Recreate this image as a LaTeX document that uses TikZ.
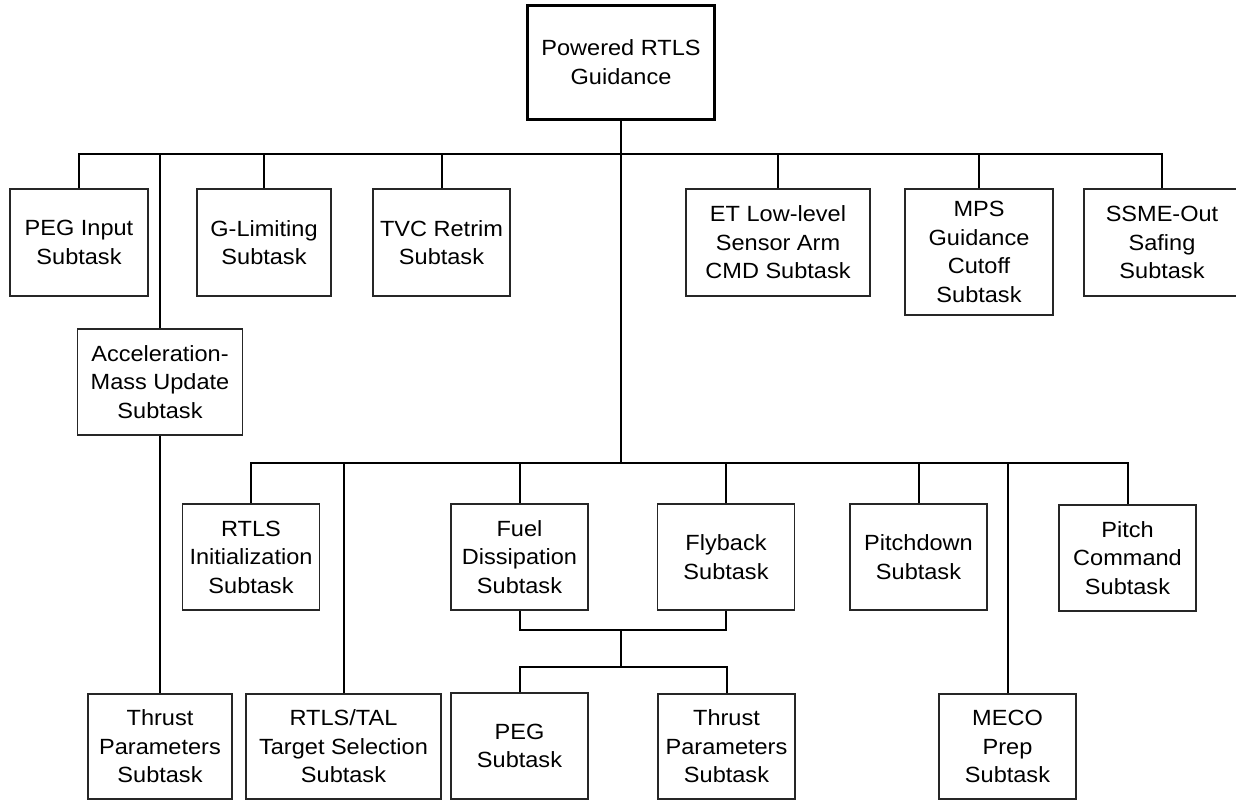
\documentclass[tikz,border=0pt]{standalone}
\usepackage{fontspec}
\setmainfont{Liberation Sans}[FakeStretch=1.07]
\begin{document}
\begin{tikzpicture}[x=1pt,y=-1pt,
  box/.style={draw=black!85, line width=1.2pt, fill=white, inner sep=0pt, align=center,
    font=\fontsize{22}{28.5}\selectfont},
  rootbox/.style={box, draw=black, line width=3pt},
  conn/.style={draw=black, line width=2pt}]
\useasboundingbox (0,0) rectangle (1236,801);
% root
\node[rootbox, minimum width=187pt, minimum height=114pt] (root) at (621,62) {Powered RTLS\\Guidance};
% row 1
\node[box, minimum width=138pt, minimum height=107pt] (pegin) at (79,242.5) {PEG Input\\Subtask};
\node[box, minimum width=134pt, minimum height=107pt] (glim) at (264,242.5) {G-Limiting\\Subtask};
\node[box, minimum width=137pt, minimum height=107pt] (tvc) at (441.5,242.5) {TVC Retrim\\Subtask};
\node[box, minimum width=184pt, minimum height=107pt] (et) at (778,242.5) {ET Low-level\\Sensor Arm\\CMD Subtask};
\node[box, minimum width=148pt, minimum height=126pt] (mps) at (979,252) {MPS\\Guidance\\Cutoff\\Subtask};
\node[box, minimum width=156pt, minimum height=107pt] (ssme) at (1162,242.5) {SSME-Out\\Safing\\Subtask};
% acceleration
\node[box, minimum width=165pt, minimum height=106pt] (acc) at (160,382) {Acceleration-\\Mass Update\\Subtask};
% row 2
\node[box, minimum width=137pt, minimum height=106pt] (init) at (251,557) {RTLS\\Initialization\\Subtask};
\node[box, minimum width=137pt, minimum height=106pt] (fuel) at (519.5,557) {Fuel\\Dissipation\\Subtask};
\node[box, minimum width=137pt, minimum height=106pt] (fly) at (726,557) {Flyback\\Subtask};
\node[box, minimum width=137pt, minimum height=106pt] (pdown) at (918.5,557) {Pitchdown\\Subtask};
\node[box, minimum width=137pt, minimum height=106pt] (pcmd) at (1127.5,558) {Pitch\\Command\\Subtask};
% row 3
\node[box, minimum width=144pt, minimum height=105pt] (thrl) at (160,746.5) {Thrust\\Parameters\\Subtask};
\node[box, minimum width=195pt, minimum height=105pt] (tal) at (343.5,746.5) {RTLS/TAL\\Target Selection\\Subtask};
\node[box, minimum width=137pt, minimum height=106pt] (peg) at (519.5,746) {PEG\\Subtask};
\node[box, minimum width=137pt, minimum height=105pt] (thrr) at (726.5,746.5) {Thrust\\Parameters\\Subtask};
\node[box, minimum width=137pt, minimum height=105pt] (meco) at (1007.5,746.5) {MECO\\Prep\\Subtask};
% bus coordinates
\coordinate (b1) at (621,154);
\coordinate (b2) at (621,463);
\coordinate (j1) at (621,630);
\coordinate (j2) at (621,667);
% connectors
\draw[conn] (root.south) -- (b2);
\draw[conn] (pegin.north) |- (b1) -| (ssme.north);
\draw[conn] (glim.north) -- (glim.north |- b1);
\draw[conn] (tvc.north) -- (tvc.north |- b1);
\draw[conn] (et.north) -- (et.north |- b1);
\draw[conn] (mps.north) -- (mps.north |- b1);
\draw[conn] (acc.north) -- (acc.north |- b1);
\draw[conn] (acc.south) -- (thrl.north);
\draw[conn] (init.north) |- (b2) -| (pcmd.north);
\draw[conn] (tal.north) -- (tal.north |- b2);
\draw[conn] (fuel.north) -- (fuel.north |- b2);
\draw[conn] (fly.north) -- (fly.north |- b2);
\draw[conn] (pdown.north) -- (pdown.north |- b2);
\draw[conn] (meco.north) -- (meco.north |- b2);
\draw[conn] (fuel.south) |- (j1) -| (fly.south);
\draw[conn] (j1) -- (j2);
\draw[conn] (peg.north) |- (j2) -| (thrr.north);
\end{tikzpicture}
\end{document}
